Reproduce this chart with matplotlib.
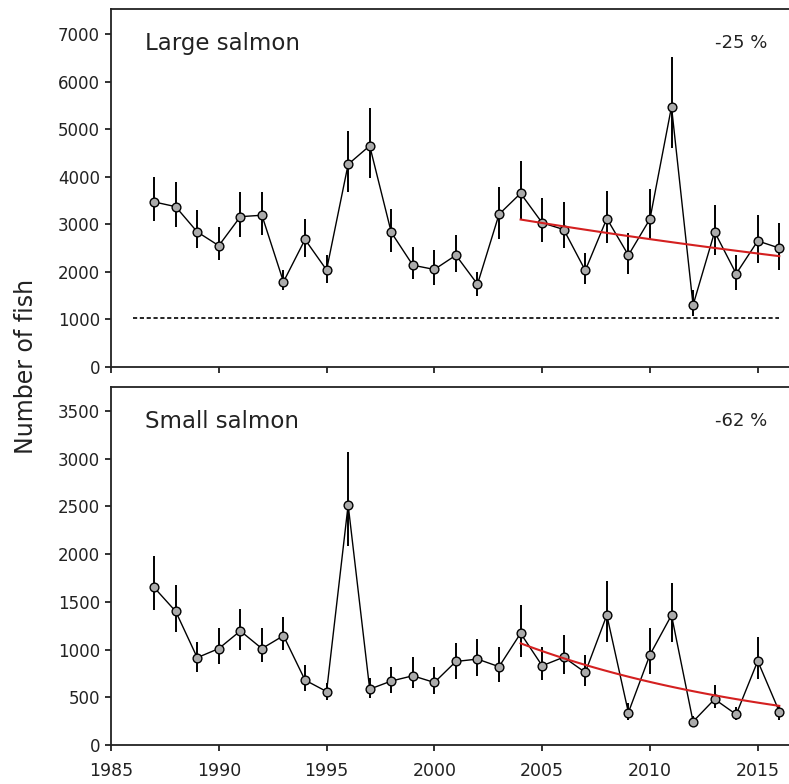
import matplotlib

matplotlib.use("Agg")
import matplotlib.pyplot as plt
import numpy as np

# ---- data ------------------------------------------------------------------
years = list(range(1987, 2017))

large = [3470, 3370, 2840, 2550, 3160, 3190, 1790, 2680, 2040, 4260,
         4650, 2830, 2140, 2050, 2350, 1740, 3210, 3650, 3030, 2890,
         2030, 3120, 2350, 3110, 5470, 1300, 2840, 1960, 2650, 2500]
large_lo = [3070, 2950, 2500, 2250, 2740, 2770, 1620, 2320, 1770, 3670,
            3970, 2410, 1860, 1730, 2000, 1490, 2700, 3090, 2620, 2500,
            1740, 2600, 1950, 2670, 4600, 1070, 2350, 1620, 2180, 2040]
large_hi = [3990, 3880, 3290, 2950, 3670, 3670, 2040, 3110, 2360, 4960,
            5440, 3320, 2530, 2450, 2780, 2000, 3780, 4320, 3560, 3460,
            2390, 3700, 2810, 3740, 6510, 1620, 3400, 2350, 3200, 3030]

small = [1650, 1400, 915, 1010, 1195, 1010, 1145, 680, 560, 2515,
         585, 670, 725, 655, 875, 900, 820, 1170, 830, 920,
         760, 1360, 340, 945, 1360, 245, 480, 320, 880, 350]
small_lo = [1415, 1180, 760, 845, 995, 865, 995, 570, 470, 2080,
            490, 540, 595, 530, 690, 725, 655, 925, 680, 740,
            620, 1075, 260, 740, 1080, 200, 385, 260, 690, 260]
small_hi = [1975, 1675, 1080, 1225, 1420, 1225, 1340, 840, 650, 3065,
            700, 820, 925, 815, 1065, 1110, 1030, 1470, 1030, 1155,
            945, 1720, 440, 1225, 1700, 300, 630, 400, 1135, 420]

# exponential trend, start/end values
trend_years = [2004, 2016]
trend_large = [3100, 2330]
trend_small = [1065, 410]

# conservation limit (dotted line, large salmon only)
limit_years = [1986, 2016]
limit_large = 1040

panel_titles = ["Large salmon", "Small salmon"]
change_labels = ["-25 %", "-62 %"]
ylims = [7525, 3750]
yticks = [list(range(0, 7001, 1000)), list(range(0, 3501, 500))]
xticks = list(range(1985, 2016, 5))

TXT = "#222222"
W, H = 789, 784

fig = plt.figure(figsize=(W / 100, H / 100), dpi=100)
ax_top = fig.add_axes([111 / W, 1 - 367 / H, 1 - 111 / W, 358 / H])
ax_bot = fig.add_axes([111 / W, 1 - 745 / H, 1 - 111 / W, 358 / H])


def draw_panel(ax, vals, lo, hi, trend, title, change, ymax, ticks, show_x):
    v = np.asarray(vals, float)
    err = [v - np.asarray(lo, float), np.asarray(hi, float) - v]
    ax.errorbar(years, v, yerr=err, fmt="none", ecolor="black",
                elinewidth=1.4, capsize=0, zorder=2)
    ax.plot(years, v, color="black", lw=1.0, zorder=3)
    ax.plot(years, v, ls="none", marker="o", ms=6.3, mfc="#ababab",
            mec="black", mew=1.0, zorder=4)

    ty = np.linspace(trend_years[0], trend_years[1], 50)
    tv = np.geomspace(trend[0], trend[1], 50)
    ax.plot(ty, tv, color="#d42020", lw=1.5, zorder=5)

    ax.set_xlim(1985, 2016.45)
    ax.set_ylim(0, ymax)
    ax.set_yticks(ticks)
    ax.set_xticks(xticks)
    if not show_x:
        ax.set_xticklabels([])
    for s in ["left", "top", "bottom"]:
        ax.spines[s].set_linewidth(1.3)
        ax.spines[s].set_color("#222222")
    ax.spines["right"].set_visible(False)
    ax.tick_params(direction="out", length=4, width=1.3, colors="#222222",
                   labelcolor=TXT, labelsize=12)
    ax.tick_params(axis="y", pad=4)
    ax.tick_params(axis="x", pad=8, labelsize=12.5)

    ax.text(34 / 678, 0.905, title, transform=ax.transAxes, fontsize=16.5,
            color=TXT, va="center", ha="left")
    ax.text(0.93, 0.905, change, transform=ax.transAxes, fontsize=13,
            color=TXT, va="center", ha="center")


draw_panel(ax_top, large, large_lo, large_hi, trend_large, panel_titles[0],
           change_labels[0], ylims[0], yticks[0], False)
ax_top.plot(limit_years, [limit_large, limit_large], color="black", lw=1.2,
            ls=(0, (2.5, 1.6)), zorder=1)

draw_panel(ax_bot, small, small_lo, small_hi, trend_small, panel_titles[1],
           change_labels[1], ylims[1], yticks[1], True)

fig.text(26 / W, 1 - 366 / H, "Number of fish", rotation=90, fontsize=17,
         color=TXT, ha="center", va="center")

fig.savefig("out.png", dpi=100)
